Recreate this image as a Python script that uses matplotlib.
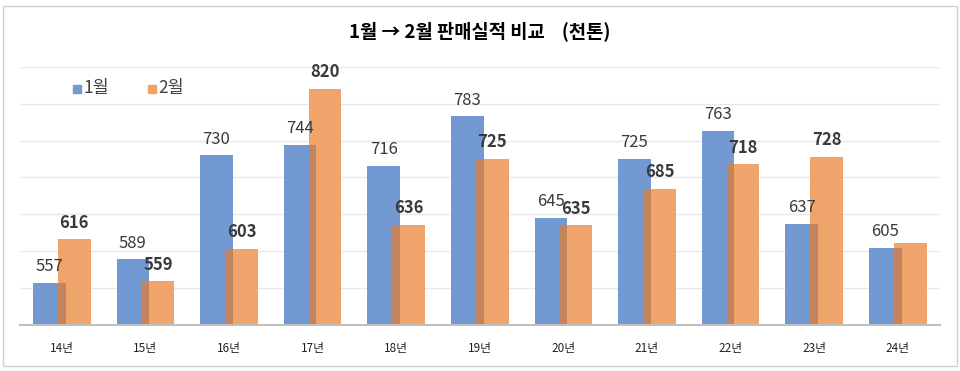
import numpy as np
import matplotlib
matplotlib.use("Agg")
import matplotlib.pyplot as plt
from matplotlib.patches import Rectangle

plt.rcParams['font.family'] = ['Noto Sans CJK KR', 'DejaVu Sans']

years = ['14년', '15년', '16년', '17년', '18년', '19년', '20년', '21년', '22년', '23년', '24년']
jan = [557, 589, 730, 744, 716, 783, 645, 725, 763, 637, 605]
feb = [616, 559, 603, 820, 636, 725, 635, 685, 718, 728, 611]
feb_labeled = [True] * 10 + [False]

blue = '#7399D2'
orange = '#EFA46C'
overlap = '#C4845E'

fig = plt.figure(figsize=(9.6, 3.71), dpi=100)
ax = fig.add_axes([0.0208, 0.124, 0.958, 0.696])

x = np.arange(len(years))
w = 0.39
off = 0.15

ax.bar(x - off, jan, w, color=blue, zorder=2)
ax.bar(x + off, feb, w, color=orange, zorder=3)
# darker strip where the two bars overlap
lo = np.minimum(jan, feb)
ov_left = x + off - w / 2
ov_right = x - off + w / 2
ax.bar((ov_left + ov_right) / 2, lo, ov_right - ov_left, color=overlap, zorder=4)

for i in range(len(years)):
    ax.annotate(str(jan[i]), (x[i] - off, jan[i]), xytext=(0, 5.5), textcoords='offset points',
                ha='center', va='bottom', fontsize=12, color='#3A3A3A', zorder=5)
    if feb_labeled[i]:
        ax.annotate(str(feb[i]), (x[i] + off, feb[i]), xytext=(0, 5.5), textcoords='offset points',
                    ha='center', va='bottom', fontsize=12, fontweight='bold', color='#3A3A3A', zorder=5)

ax.set_ylim(500, 850)
ax.set_xlim(-0.5, len(years) - 0.5)
ax.set_yticks(np.arange(550, 851, 50))
ax.yaxis.grid(True, color='#E8E8E8', linewidth=1, zorder=0)
ax.set_axisbelow(True)
ax.tick_params(axis='y', left=False, labelleft=False)
ax.set_xticks(x)
ax.set_xticklabels(years, fontsize=8.5, color='#222222')
ax.tick_params(axis='x', length=0, pad=12)
for s in ['top', 'right', 'left']:
    ax.spines[s].set_visible(False)
ax.spines['bottom'].set_color('#BFBFBF')
ax.spines['bottom'].set_linewidth(1.5)
ax.spines['bottom'].set_zorder(6)

fig.text(0.5, 0.915, '1월 → 2월 판매실적 비교    (천톤)', ha='center', va='center',
         fontsize=13.5, fontweight='bold', color='black')

# legend
lx = [0.076, 0.154]
ly = 0.762
for xx, col, lab in zip(lx, [blue, orange], ['1월', '2월']):
    fig.patches.append(Rectangle((xx, ly - 0.012), 0.0085, 0.022, transform=fig.transFigure,
                                 color=col, figure=fig))
    fig.text(xx + 0.011, ly, lab, ha='left', va='center', fontsize=12.5, color='#404040')

fig.patches.append(Rectangle((0.003, 0.013), 0.994, 0.972, transform=fig.transFigure,
                             fill=False, edgecolor='#D0D0D0', linewidth=1, figure=fig))

fig.savefig('out.png', dpi=100, facecolor='white')
